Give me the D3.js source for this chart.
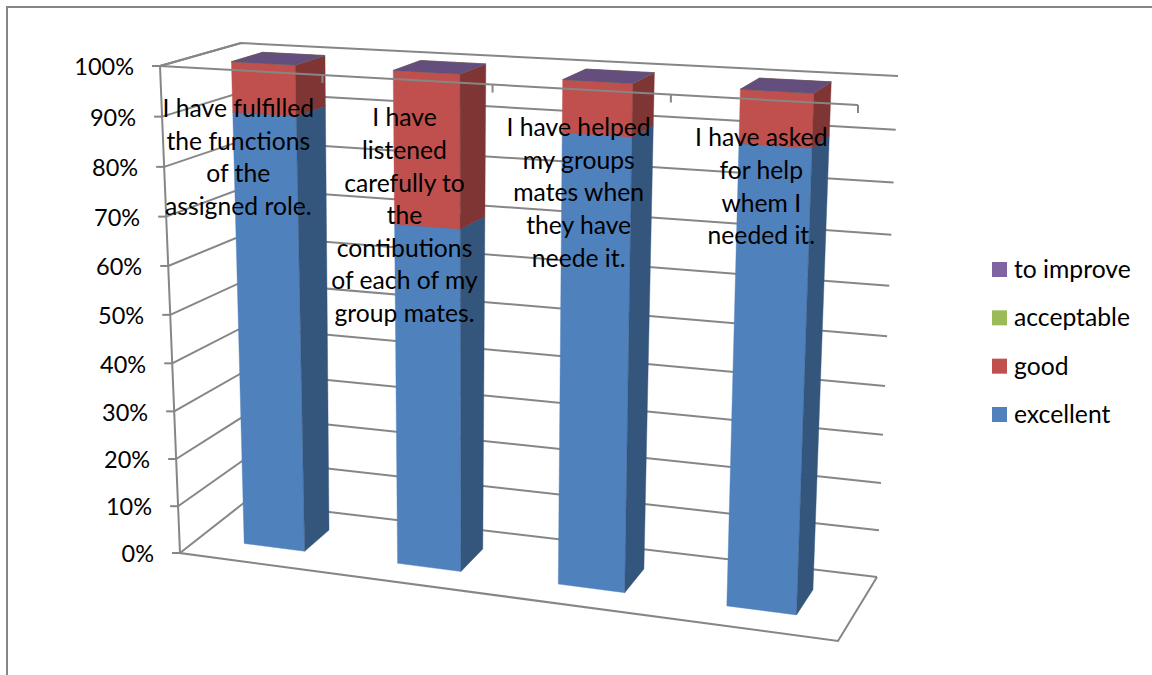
<!DOCTYPE html>
<html><head><meta charset="utf-8">
<script src="https://cdn.jsdelivr.net/npm/d3@7/dist/d3.min.js"></script>
<style>html,body{margin:0;padding:0;background:#fff}svg{display:block}text{font-family:Lato,Carlito,sans-serif;fill:#000}</style>
</head><body><svg id="c" width="1152" height="675"></svg>
<script>
const questions = ["q1","q2","q3","q4"];
const categoryLabels = [
  ["I have fulfilled","the functions","of the","assigned role."],
  ["I have","listened","carefully to","the","contibutions","of each of my","group mates."],
  ["I have helped","my groups","mates when","they have","neede it."],
  ["I have asked","for help","whem I","needed it."]
];
const seriesNames = ["excellent","good","acceptable","to improve"];
const excellent = [90,70,90,90];
const good = [10,30,10,10];
const acceptable = [0,0,0,0];
const toImprove = [0,0,0,0];
const seriesColors = ["#4F81BD","#C0504D","#9BBB59","#8064A2"];
const percentTicks = [0,10,20,30,40,50,60,70,80,90,100];

const FONT=24.7, TICKFONT=23.5, GRID="#868686";
const svg=d3.select("#c");
// frame
svg.append("path").attr("d","M7,675V7H1152").attr("fill","none").attr("stroke",GRID).attr("stroke-width",2);

// 3D box corners
const box={fb0:[180,553],fb1:[838,641],bb0:[245,502],bb1:[877,577],ft0:[160,66],ft1:[858,105],bt0:[241,43],bt1:[898,76]};
const persp=(a,t)=>t*a/(1-(1-a)*t);
const band=d3.scaleBand().domain(questions).range([0,1]).paddingInner(.6).paddingOuter(.3);
const yScale=d3.scaleLinear().domain([0,100]).range([0,1]);
const depth=d3.scaleLinear().domain([0,1]).range([.3,.7]);
const vBend=d3.scaleLinear().domain([0,1]).range([.957,.925]);
const mix=(a,b,t)=>[a[0]+(b[0]-a[0])*t,a[1]+(b[1]-a[1])*t];
function proj(t,d,val){
  const u=persp(.91,t), v=persp(vBend(d),yScale(val));
  const fb=mix(box.fb0,box.fb1,u), bb=mix(box.bb0,box.bb1,u);
  const ft=mix(box.ft0,box.ft1,u), bt=mix(box.bt0,box.bt1,u);
  return mix(mix(fb,bb,d),mix(ft,bt,d),v);
}
const line=d3.line();
const g=svg.append("g").attr("fill","none").attr("stroke",GRID).attr("stroke-width",2);
// walls
percentTicks.forEach(p=>{
  g.append("path").attr("d",line([proj(0,0,p),proj(0,1,p),proj(1,1,p)]));
});
// bars
const stack=d3.stack().keys(seriesNames)(questions.map((q,i)=>({q,excellent:excellent[i],good:good[i],acceptable:acceptable[i],"to improve":toImprove[i]})));
const bars=svg.append("g");
questions.forEach((q,i)=>{
  const l=band(q), r=l+band.bandwidth(), d0=depth(0), d1=depth(1);
  stack.forEach((s,k)=>{
    const [lo,hi]=s[i], c=seriesColors[k];
    const poly=(pts,f)=>bars.append("path").attr("d",line(pts)+"Z").attr("fill",f).attr("stroke",f).attr("stroke-width",.4);
    if(hi>lo){
      poly([proj(l,d0,lo),proj(r,d0,lo),proj(r,d0,hi),proj(l,d0,hi)],c);
      poly([proj(r,d0,lo),proj(r,d1,lo),proj(r,d1,hi),proj(r,d0,hi)],d3.color(c).darker(1.15).formatHex());
    }
    poly([proj(l,d0,hi),proj(r,d0,hi),proj(r,d1,hi),proj(l,d1,hi)],d3.color(c).darker(.7).formatHex());
  });
});
// front axes
const a=svg.append("g").attr("fill","none").attr("stroke",GRID).attr("stroke-width",2);
a.append("path").attr("d",line([proj(0,0,100),proj(0,0,0),proj(1,0,0),proj(1,1,0)]));
a.append("path").attr("d",line([proj(0,0,100),proj(0,1,100)]));
a.append("path").attr("d",line([proj(0,0,100),proj(1,0,100)]));
questions.forEach(q=>{
  const t=band(q)+band.bandwidth()/2+band.step()/2, p=proj(t,0,100);
  a.append("path").attr("d",line([p,[p[0],p[1]+8]]));
});
percentTicks.forEach(p=>{
  const o=proj(0,0,p);
  a.append("path").attr("d",line([[o[0]-8,o[1]],o]));
  svg.append("text").attr("x",o[0]-26).attr("y",o[1]+1).attr("dy",".35em").attr("text-anchor","end")
    .attr("font-size",TICKFONT).text(p+"%");
});
// category labels
questions.forEach((q,i)=>{
  const p=proj(band(q)+band.bandwidth()/2,0,100);
  categoryLabels[i].forEach((t,j)=>{
    svg.append("text").attr("x",p[0]-2).attr("y",p[1]+38+j*32.6).attr("dy",".35em").attr("text-anchor","middle")
      .attr("font-size",FONT).text(t);
  });
});
// legend
const legY=d3.scalePoint().domain(seriesNames.slice().reverse()).range([269.5,414.5]);
seriesNames.forEach((n,k)=>{
  svg.append("rect").attr("x",992).attr("y",legY(n)-7.5).attr("width",15).attr("height",15).attr("fill",seriesColors[k]);
  svg.append("text").attr("x",1014).attr("y",legY(n)).attr("dy",".35em").attr("font-size",FONT).text(n);
});
</script></body></html>
